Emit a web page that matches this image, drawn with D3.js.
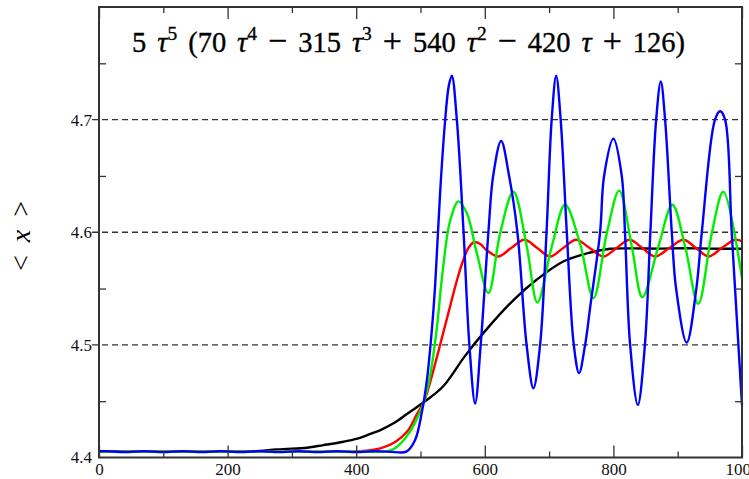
<!DOCTYPE html>
<html>
<head>
<meta charset="utf-8">
<script src="https://cdn.jsdelivr.net/npm/d3@7"></script>
<style>
  html, body { margin: 0; padding: 0; background: #fff; }
  svg { display: block; }
</style>
</head>
<body>
<svg id="chart" width="749" height="479"></svg>
<script>
// ---------------- DATA ----------------
const xTicks = [0, 200, 400, 600, 800, 1000];
const xMinorTicks = [100, 300, 500, 700, 900];
const yTicks = [4.4, 4.5, 4.6, 4.7];
const yGrid = [4.5, 4.6, 4.7];
const yMinorTicks = [4.45, 4.55, 4.65, 4.75];

const blackSeries = [
  [0, 4.4052], [60, 4.4052], [120, 4.4052], [180, 4.4052], [230, 4.4053],
  [250, 4.4058], [276, 4.4071], [300, 4.4079], [320, 4.4084], [349, 4.411],
  [380, 4.414], [400, 4.4165], [420, 4.4205], [440, 4.425], [460, 4.431],
  [480, 4.439], [505, 4.449], [535, 4.463], [569, 4.490], [600, 4.512],
  [645, 4.540], [681, 4.558], [722, 4.574], [764, 4.582], [795, 4.5853],
  [830, 4.5857], [870, 4.5855], [910, 4.5858], [950, 4.5855], [1000, 4.5853]
];

const redSeries = [
  [0, 4.4052], [100, 4.4052], [200, 4.4052], [300, 4.4052], [400, 4.4053],
  [420, 4.4062], [440, 4.4085], [460, 4.4135], [480, 4.4235], [494, 4.438],
  [505, 4.449], [515, 4.467], [525, 4.488], [535, 4.510], [545, 4.532],
  [556, 4.556], [566, 4.5745], [575, 4.5865], [584, 4.5913], [593, 4.5895],
  [602, 4.5845], [621, 4.5785], [641, 4.586], [661.6, 4.5933], [681.6, 4.586],
  [701.6, 4.5785], [722, 4.586], [742, 4.5933], [763, 4.586], [784.5, 4.5785],
  [805, 4.586], [825, 4.5933], [845, 4.586], [865, 4.5785], [887, 4.586],
  [909, 4.5933], [928.5, 4.586], [948, 4.5785], [968.5, 4.586], [989, 4.5933],
  [1000, 4.592]
];

const greenSeries = [
  [0, 4.4052], [100, 4.4052], [200, 4.4052], [300, 4.4052], [400, 4.4052],
  [440, 4.4052], [455, 4.4065], [470, 4.413], [485, 4.424], [495, 4.435],
  [505, 4.449], [515, 4.473], [525, 4.513], [535, 4.568], [546, 4.610],
  [559, 4.6274], [572, 4.617], [587.6, 4.5815], [605.6, 4.546], [623.8, 4.599],
  [644.5, 4.636], [665.3, 4.5874], [681.8, 4.5376], [704.2, 4.5874], [724.9, 4.6244],
  [748, 4.590], [769, 4.5415], [789.7, 4.599], [809, 4.637], [828.6, 4.5874],
  [845, 4.5424], [870, 4.5874], [891.7, 4.6244], [911.5, 4.5874], [932, 4.5364],
  [953, 4.599], [971, 4.636], [1000, 4.559]
];

const blueSeries = [
  [0, 4.4055], [10, 4.4057], [40, 4.4048], [70, 4.4057], [100, 4.4048],
  [130, 4.4057], [160, 4.4048], [190, 4.4057], [220, 4.4048], [250, 4.4057],
  [280, 4.4048], [310, 4.4057], [340, 4.4048], [370, 4.4057], [400, 4.4048],
  [430, 4.4057], [460, 4.4048], [478, 4.4052], [491.6, 4.4156], [502, 4.440],
  [510, 4.469], [517.6, 4.513], [523, 4.555], [530.5, 4.635], [538, 4.697],
  [544, 4.730], [548.7, 4.739], [556.5, 4.70], [567, 4.60], [576, 4.50],
  [585, 4.448], [593.6, 4.50], [605.6, 4.60], [613, 4.65], [625.4, 4.681],
  [637.8, 4.65], [650.7, 4.60], [665, 4.50], [675.6, 4.4615], [686, 4.50],
  [696, 4.60], [704, 4.70], [711, 4.739], [718, 4.70], [727.5, 4.60],
  [738.4, 4.50], [746.6, 4.475], [756, 4.50], [764, 4.534], [779.3, 4.60],
  [785.5, 4.65], [800, 4.683], [813, 4.65], [818, 4.60], [826, 4.50],
  [838, 4.4467], [849, 4.50], [857.5, 4.60], [866.5, 4.70], [873.7, 4.7338],
  [880.4, 4.70], [890.8, 4.60], [897.5, 4.55], [914, 4.502], [929, 4.55],
  [937.5, 4.60], [958, 4.70], [966, 4.7074], [973.7, 4.70], [984, 4.60],
  [994.4, 4.50], [1000, 4.4467]
];

const titleParts = [
  ["5 ", "n"], ["τ", "i"], ["5", "s"], [" (70 ", "n"], ["τ", "i"], ["4", "s"],
  [" ", "n"], ["−", "o"], [" 315 ", "n"], ["τ", "i"], ["3", "s"], [" ", "n"], ["+", "o"],
  [" 540 ", "n"], ["τ", "i"], ["2", "s"], [" ", "n"], ["−", "o"], [" 420 ", "n"],
  ["τ", "i"], [" ", "n"], ["+", "o"], [" 126)", "n"]
];

// ---------------- LAYOUT ----------------
const svg = d3.select("#chart");
const L = 99, R = 742, T = 7, B = 457.5;
const x = d3.scaleLinear().domain([0, 1000]).range([L, R]);
const y = d3.scaleLinear().domain([4.4, 4.8]).range([B, T]);
const serif = "'Liberation Serif', 'Times New Roman', serif";

// grid dashed lines
svg.append("g").selectAll("line").data(yGrid).join("line")
  .attr("x1", L - 7).attr("x2", R)
  .attr("y1", d => y(d)).attr("y2", d => y(d))
  .attr("stroke", "#333").attr("stroke-width", 1.3)
  .attr("stroke-dasharray", "6,4");

// curves
const line = d3.line().x(d => x(d[0])).y(d => y(d[1])).curve(d3.curveCatmullRom.alpha(0.5));
const series = [
  { data: blackSeries, color: "#000000" },
  { data: redSeries, color: "#ff0000" },
  { data: greenSeries, color: "#00ee00" },
  { data: blueSeries, color: "#0000ff" }
];
svg.append("g").selectAll("path").data(series).join("path")
  .attr("d", d => line(d.data))
  .attr("fill", "none")
  .attr("stroke", d => d.color)
  .attr("stroke-width", 2.4)
  .attr("stroke-linejoin", "round");

// axes (ticks inward)
function styleTicks(g) {
  g.attr("font-family", serif).attr("font-size", 17);
  g.select(".domain").remove();
  g.selectAll("line").attr("stroke", "#333").attr("stroke-width", 1.3);
  g.selectAll("text").attr("font-family", serif).attr("font-size", 17).attr("fill", "#111");
}
const axB = d3.axisBottom(x).tickValues(xTicks).tickSize(-12).tickPadding(5)
  .tickFormat(d3.format("d"));
svg.append("g").attr("transform", `translate(0,${B})`).call(axB).call(styleTicks);
svg.append("g").attr("transform", `translate(0,${B})`)
  .call(d3.axisBottom(x).tickValues(xMinorTicks).tickSize(-6).tickFormat("")).call(styleTicks);
svg.append("g").attr("transform", `translate(0,${T})`)
  .call(d3.axisTop(x).tickValues(xTicks).tickSize(-12).tickFormat("")).call(styleTicks);
svg.append("g").attr("transform", `translate(0,${T})`)
  .call(d3.axisTop(x).tickValues(xMinorTicks).tickSize(-6).tickFormat("")).call(styleTicks);

const axL = d3.axisLeft(y).tickValues(yTicks).tickSize(0).tickPadding(7)
  .tickFormat(d3.format(".1f"));
svg.append("g").attr("transform", `translate(${L},0)`).call(axL).call(styleTicks);
svg.append("g").attr("transform", `translate(${L},0)`)
  .call(d3.axisLeft(y).tickValues(yMinorTicks).tickSize(-7).tickFormat("")).call(styleTicks);
svg.append("g").attr("transform", `translate(${R},0)`)
  .call(d3.axisRight(y).tickValues(yMinorTicks).tickSize(-7).tickFormat("")).call(styleTicks);

// frame
svg.append("rect").attr("x", L).attr("y", T).attr("width", R - L).attr("height", B - T)
  .attr("fill", "none").attr("stroke", "#333").attr("stroke-width", 2);

// title
const title = svg.append("text").attr("x", 132).attr("y", 52)
  .attr("font-family", serif).attr("font-size", 28.5).attr("fill", "#000")
  .attr("stroke", "#000").attr("stroke-width", 0.35);
let raised = false;
titleParts.forEach(p => {
  const ts = title.append("tspan").text(p[0]);
  if (p[1] === "i") ts.attr("font-style", "italic");
  if (p[1] === "o") ts.attr("font-size", 34);
  if (p[1] === "s") { ts.attr("font-size", 19.5).attr("dy", -12); raised = true; }
  else if (raised) { ts.attr("dy", 12); raised = false; }
});
title.style("white-space", "pre");
const tw = title.node().getComputedTextLength();
const nSpaces = titleParts.map(p => p[0]).join("").split(" ").length - 1;
title.attr("word-spacing", (553 - tw) / nSpaces);

// y axis label
const yl = svg.append("text")
  .attr("transform", "translate(30,236) rotate(-90)")
  .attr("text-anchor", "middle")
  .attr("font-family", serif).attr("font-size", 28).attr("fill", "#000")
  .attr("word-spacing", 6);
yl.append("tspan").text("< ");
yl.append("tspan").attr("font-style", "italic").text("x");
yl.append("tspan").text(" >");
</script>
</body>
</html>
